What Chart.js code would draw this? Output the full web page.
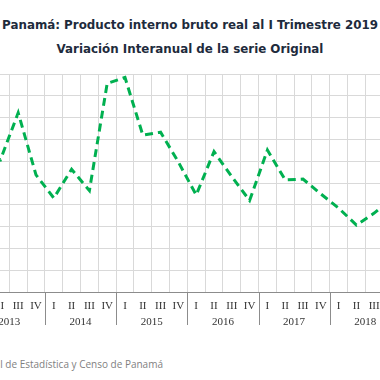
<!DOCTYPE html>
<html>
<head>
<meta charset="utf-8">
<script src="https://cdn.jsdelivr.net/npm/chart.js@4/dist/chart.umd.min.js"></script>
<style>
  html, body { margin: 0; padding: 0; width: 380px; height: 380px; overflow: hidden; background: #fff; }
  .title { position: absolute; left: -110px; width: 600px; text-align: center; white-space: nowrap;
    font-family: "DejaVu Sans", sans-serif; font-weight: bold; color: #1e2b3c; line-height: 1; }
  #title1 { top: 20px; font-size: 12px; }
  #title2 { top: 44px; font-size: 12px; }
  #source { position: absolute; top: 357px; right: 217px; white-space: nowrap;
    font-family: "Open Sans", sans-serif; font-size: 10px; color: #7f7f7f; }
  #wrap { position: absolute; left: -70px; top: 60px; width: 500px; height: 280px; }
</style>
</head>
<body>
<div id="title1" class="title">Panamá: Producto interno bruto real al I Trimestre 2019</div>
<div id="title2" class="title">Variación Interanual de la serie Original</div>
<div id="wrap"><canvas id="c"></canvas></div>
<div id="source">Fuente: Instituto Nacional de Estadística y Censo de Panamá</div>
<script>
const years = ['2013', '2014', '2015', '2016', '2017', '2018', '2019'];
const quarters = ['I','II','III','IV','I','II','III','IV','I','II','III','IV','I','II','III','IV',
                  'I','II','III','IV','I','II','III','IV','I'];
const growth = [6.5, 6.06, 8.22, 5.37,
                4.31, 5.63, 4.65, 9.57,
                9.84, 7.2, 7.33, 5.96,
                4.45, 6.44, 5.29, 4.2,
                6.51, 5.14, 5.18, 4.5,
                3.85, 3.07, 3.62, 4.3,
                3.1];
const yTicks = { min: 0, max: 10, step: 1 };

// fit the title's first line to the reference width
(function fitTitle() {
  const m = document.createElement('canvas').getContext('2d');
  m.font = 'bold 100px "DejaVu Sans"';
  const w = m.measureText(document.getElementById('title1').textContent).width;
  const size = (100 * 376 / w).toFixed(2) + 'px';
  document.getElementById('title1').style.fontSize = size;
  document.getElementById('title2').style.fontSize = size;
})();

const yearSeparators = {
  id: 'yearSeparators',
  afterDraw(chart) {
    const x = chart.scales.x;
    const ctx = chart.ctx;
    const top = chart.chartArea.bottom;
    ctx.save();
    ctx.strokeStyle = '#8c8c8c';
    ctx.lineWidth = 1;
    for (let i = 1; i < years.length; i++) {
      const px = Math.round(x.getPixelForValue(i * 4 - 0.5)) + 0.5;
      ctx.beginPath();
      ctx.moveTo(px, top);
      ctx.lineTo(px, top + 33);
      ctx.stroke();
    }
    ctx.restore();
  }
};

new Chart(document.getElementById('c'), {
  type: 'line',
  data: {
    labels: quarters,
    datasets: [{
      data: growth,
      borderColor: '#00b050',
      borderWidth: 3,
      borderDash: [8, 5],
      borderCapStyle: 'butt',
      pointRadius: 0,
      tension: 0,
      fill: false
    }]
  },
  options: {
    responsive: true,
    maintainAspectRatio: false,
    animation: false,
    layout: { padding: { top: 14, right: 11.3, left: 0, bottom: 0 } },
    plugins: { legend: { display: false }, title: { display: false }, tooltip: { enabled: false } },
    scales: {
      y: {
        min: yTicks.min, max: yTicks.max,
        ticks: { stepSize: yTicks.step, color: '#404040', font: { family: 'Liberation Serif', size: 11 } },
        grid: { color: '#d9d9d9', drawTicks: false },
        border: { display: false },
        afterFit(s) { s.width = 43.7; }
      },
      x: {
        type: 'category',
        offset: true,
        grid: { offset: true, color: '#d9d9d9', drawTicks: false },
        border: { display: true, color: '#8c8c8c' },
        ticks: { autoSkip: false, maxRotation: 0, padding: 8, color: '#333333',
                 font: { family: 'Liberation Serif', size: 11 } },
        afterFit(s) { s.height = 21; }
      },
      x2: {
        type: 'linear',
        position: 'bottom',
        min: -0.5, max: quarters.length - 0.5,
        afterBuildTicks(axis) {
          axis.ticks = years.map((y, i) => {
            const n = Math.min(4, quarters.length - i * 4);
            return { value: i * 4 + (n - 1) / 2 };
          });
        },
        ticks: { autoSkip: false, maxRotation: 0, padding: 3, color: '#333333',
                 font: { family: 'Liberation Serif', size: 11 },
                 callback: (v, i) => years[i] },
        grid: { display: false, drawTicks: false },
        border: { display: false },
        afterFit(s) { s.height = 27; }
      }
    }
  },
  plugins: [yearSeparators]
});
</script>
</body>
</html>
